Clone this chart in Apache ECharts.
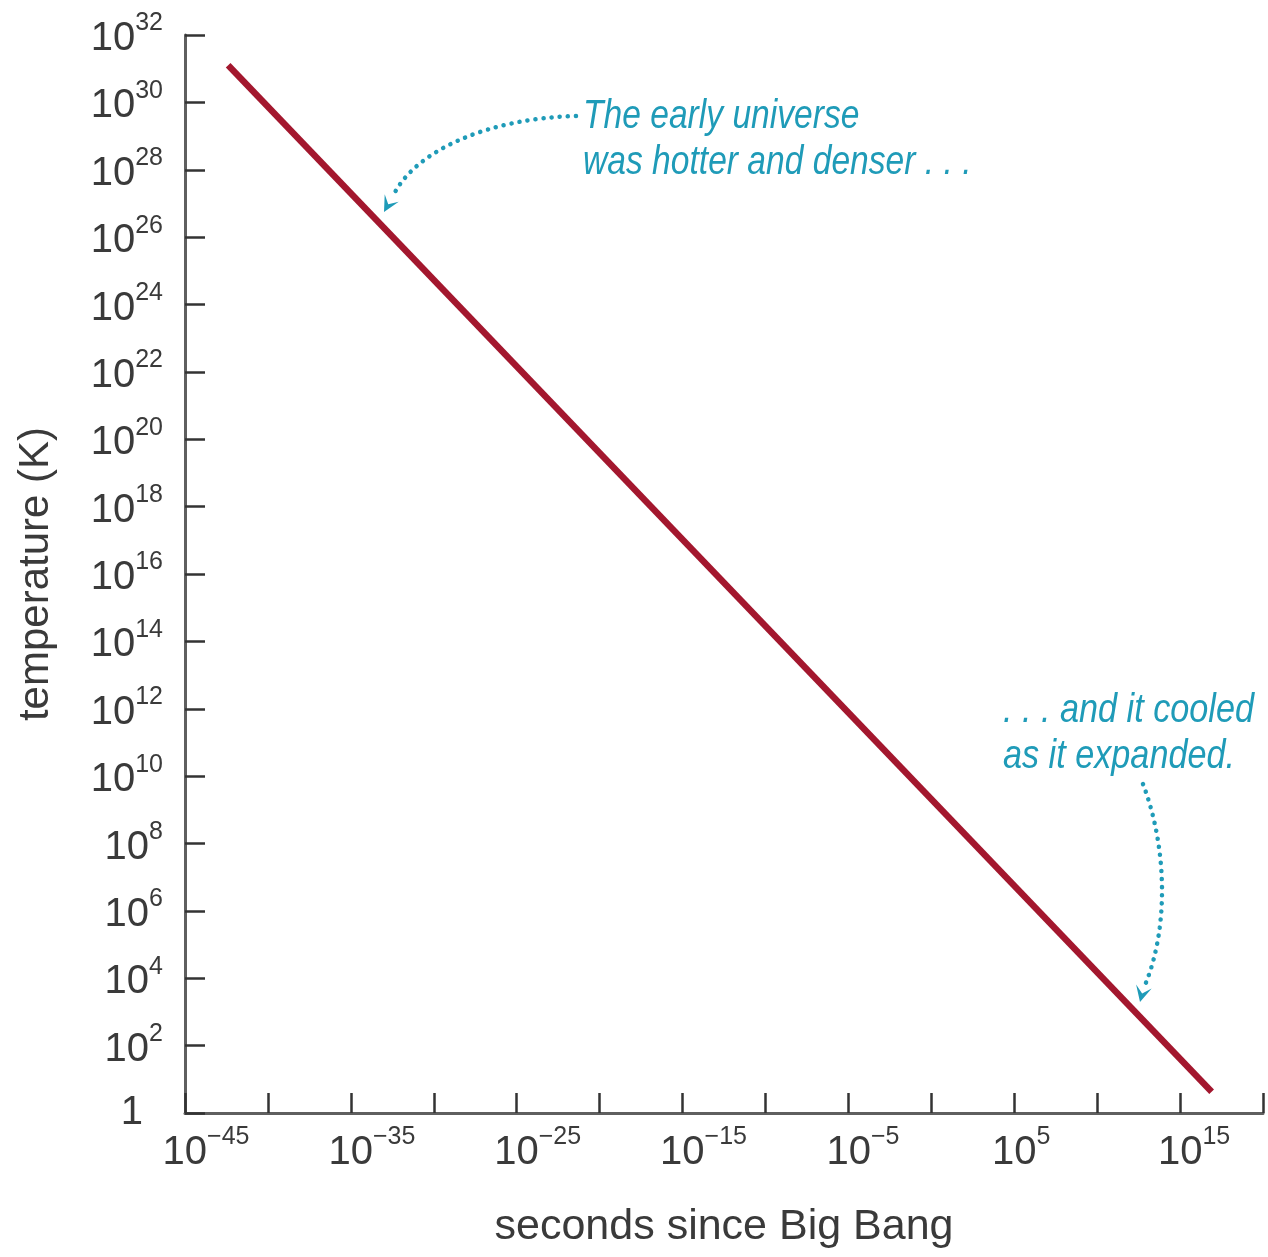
<!DOCTYPE html>
<html><head><meta charset="utf-8">
<script src="https://cdn.jsdelivr.net/npm/echarts@6/dist/echarts.min.js"></script>
<style>html,body{margin:0;padding:0;background:#fff}#c{width:1268px;height:1257px}</style>
</head><body><div id="c"></div>
<script>
// ---- data ----
const timeSeconds = [4e-43, 8e16];          // seconds since Big Bang (line endpoints)
const temperatureK = [1.26e31, 4.3];        // temperature in K
// axes are logarithmic: ranges and ticks given as powers of ten
const xExpRange = [-45, 20];
const xTickStep = 5;
const xLabelExponents = [-45, -35, -25, -15, -5, 5, 15];
const yExpRange = [0, 32];
const yTickStep = 2;
const xTitle = 'seconds since Big Bang';
const yTitle = 'temperature (K)';
const noteEarly = 'The early universe\nwas hotter and denser . . .';
const noteLate = '. . . and it cooled\nas it expanded.';

// ---- styling ----
const FONT = '"Liberation Sans", Arial, Helvetica, sans-serif';
const NOTE_FONT = 'italic 40px "Liberation Sans", Arial, sans-serif';
const LABEL_COLOR = '#3a3a3a';
const CYAN = '#1f9bb8';
const RED = '#a3172e';

function fmtExp(e) { return e < 0 ? '\u2212' + (-e) : String(e); }

const measureCtx = document.createElement('canvas').getContext('2d');
measureCtx.font = '25px "Liberation Sans"';
function supWidth(s) { return Math.round(measureCtx.measureText(s).width); }

const yRich = {
  b: { fontSize: 40, lineHeight: 48, verticalAlign: 'bottom', fontFamily: FONT, color: LABEL_COLOR },
  s: { fontSize: 25, lineHeight: 20, verticalAlign: 'top', fontFamily: FONT, color: LABEL_COLOR },
  one: { fontSize: 40, lineHeight: 22, fontFamily: FONT, color: LABEL_COLOR, padding: [0, 20, 0, 0] }
};
const xRich = { b: yRich.b, s: yRich.s };
xLabelExponents.forEach(function (e, i) {
  xRich['p' + i] = { width: supWidth(fmtExp(e)), lineHeight: 48, fontSize: 10 };
});

// series points in log10 space (the value axes below are decade scales)
const lineData = timeSeconds.map((t, i) => [Math.log10(t), Math.log10(temperatureK[i])]);

const chart = echarts.init(document.getElementById('c'), null, { renderer: 'canvas' });

function arrowHead(tip, dir, len, half) {
  const L = Math.hypot(dir[0], dir[1]);
  const d = [dir[0] / L, dir[1] / L];
  const n = [-d[1], d[0]];
  return [
    tip,
    [tip[0] - len * d[0] + half * n[0], tip[1] - len * d[1] + half * n[1]],
    [tip[0] - 0.55 * len * d[0], tip[1] - 0.55 * len * d[1]],
    [tip[0] - len * d[0] - half * n[0], tip[1] - len * d[1] - half * n[1]]
  ];
}

const dotted = { stroke: CYAN, lineWidth: 4.5, lineDash: [0.1, 8], lineCap: 'round', fill: null };

chart.setOption({
  animation: false,
  backgroundColor: '#fff',
  grid: { left: 185, right: 5, top: 35, bottom: 144, containLabel: false, outerBoundsMode: 'none' },
  xAxis: {
    type: 'value', min: xExpRange[0], max: xExpRange[1], interval: xTickStep,
    name: xTitle, nameLocation: 'middle', nameGap: 93, nameMoveOverlap: false,
    nameTextStyle: { fontSize: 43, fontFamily: FONT, color: LABEL_COLOR },
    axisLine: { onZero: false, lineStyle: { color: '#5f5f5f', width: 3 } },
    axisTick: { inside: true, length: 20, lineStyle: { color: '#333', width: 2.5 } },
    splitLine: { show: false }, minorTick: { show: false },
    axisLabel: {
      margin: 12, showMinLabel: true, showMaxLabel: true, rich: xRich, hideOverlap: false,
      formatter: function (v) {
        const e = Math.round(v);
        const i = xLabelExponents.indexOf(e);
        if (i < 0) return '';
        return '{p' + i + '|}{b|10}{s|' + fmtExp(e) + '}';
      }
    }
  },
  yAxis: {
    type: 'value', min: yExpRange[0], max: yExpRange[1], interval: yTickStep,
    name: yTitle, nameLocation: 'middle', nameGap: 128, nameRotate: 90, nameMoveOverlap: false,
    nameTextStyle: { fontSize: 42, fontFamily: FONT, color: LABEL_COLOR },
    axisLine: { onZero: false, lineStyle: { color: '#5f5f5f', width: 3 } },
    axisTick: { inside: true, length: 20, lineStyle: { color: '#333', width: 2.5 } },
    splitLine: { show: false }, minorTick: { show: false },
    axisLabel: {
      margin: 22, rich: yRich, hideOverlap: false, showMinLabel: true, showMaxLabel: true,
      formatter: function (v) {
        const e = Math.round(v);
        if (e === 0) return '{one|1}';
        return '{b|10}{s|' + fmtExp(e) + '}';
      }
    }
  },
  series: [{
    type: 'line',
    data: lineData,
    symbol: 'none',
    lineStyle: { color: RED, width: 6.5, cap: 'butt' },
    clip: false
  }],
  graphic: [
    { type: 'text', x: 583, y: 94, z: 10, scaleX: 0.84,
      style: { text: noteEarly, font: NOTE_FONT, fill: CYAN, lineHeight: 46, align: 'left', verticalAlign: 'top' } },
    { type: 'text', x: 1003, y: 688, z: 10, scaleX: 0.855,
      style: { text: noteLate, font: NOTE_FONT, fill: CYAN, lineHeight: 46, align: 'left', verticalAlign: 'top' } },
    { type: 'bezierCurve', z: 10,
      shape: { x1: 576, y1: 116, cpx1: 490, cpy1: 118, cpx2: 415, cpy2: 150, x2: 393, y2: 196 },
      style: dotted },
    { type: 'polygon', z: 10,
      shape: { points: arrowHead([384, 212], [-0.55, 1], 16, 8) },
      style: { fill: CYAN } },
    { type: 'bezierCurve', z: 10,
      shape: { x1: 1143, y1: 784, cpx1: 1168, cpy1: 850, cpx2: 1168, cpy2: 930, x2: 1145, y2: 985 },
      style: dotted },
    { type: 'polygon', z: 10,
      shape: { points: arrowHead([1140, 1002], [-0.25, 1], 16, 8) },
      style: { fill: CYAN } }
  ]
});
</script>
</body></html>
